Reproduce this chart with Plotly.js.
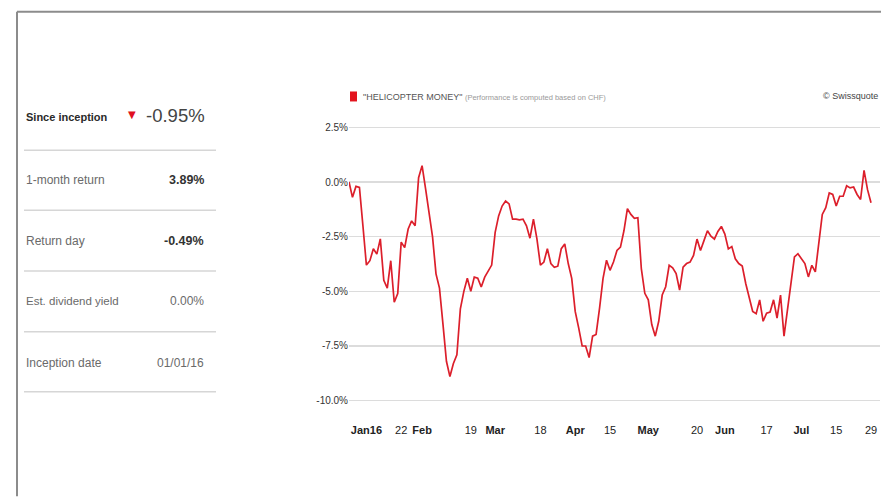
<!DOCTYPE html>
<html>
<head>
<meta charset="utf-8">
<script src="https://cdn.plot.ly/plotly-3.0.1.min.js"></script>
<style>
html,body{margin:0;padding:0;background:#fff;}
#chart{width:881px;height:497px;}
</style>
</head>
<body>
<div id="chart"></div>
<script>
// ---- Data (performance in %, one value per trading day, 2016-01-01 .. 2016-07-29)
var seriesName = '"HELICOPTER MONEY"';
var seriesNote = '(Performance is computed based on CHF)';
var startDate = '2016-01-01';
var endDate = '2016-07-29';
var performance = [
  0.0, -0.7, -0.2, -0.25, -2.0, -3.8, -3.6, -3.05, -3.3, -2.6,
  -4.5, -4.85, -3.6, -5.5, -5.1, -2.75, -3.0, -2.15, -1.78, -2.0,
  0.2, 0.75, -0.3, -1.3, -2.5, -4.2, -4.85, -6.5, -8.2, -8.9,
  -8.3, -7.9, -5.8, -5.0, -4.4, -5.0, -4.35, -4.4, -4.8, -4.35,
  -4.05, -3.8, -2.3, -1.55, -1.1, -0.87, -1.0, -1.7, -1.7, -1.73,
  -1.7, -2.0, -2.57, -1.7, -2.6, -3.8, -3.66, -3.05, -3.73, -3.9,
  -3.85, -3.05, -2.83, -3.73, -4.41, -5.92, -6.67, -7.5, -7.5, -8.03,
  -7.05, -6.97, -5.77, -4.41, -3.58, -4.04, -3.66, -3.13, -2.98, -2.23,
  -1.22, -1.48, -1.66, -1.63, -3.96, -5.09, -5.39, -6.52, -7.05, -6.37,
  -5.17, -4.79, -3.81, -3.93, -4.19, -4.94, -3.89, -3.73, -3.66, -3.36,
  -2.61, -3.13, -2.68, -2.23, -2.48, -2.61, -2.26, -2.03, -2.38, -3.06,
  -2.95, -3.51, -3.73, -3.84, -4.64, -5.24, -5.92, -6.02, -5.39, -6.37,
  -6.0, -5.95, -5.39, -6.22, -5.17, -7.05, -5.92, -4.56, -3.43, -3.28,
  -3.5, -3.73, -4.34, -3.81, -4.11, -2.76, -1.48, -1.17, -0.5, -0.57,
  -1.1, -0.65, -0.65, -0.17, -0.27, -0.23, -0.57, -0.8, 0.53, -0.35,
  -0.95
];
var tickDates = ['2016-01-08','2016-01-22','2016-02-01','2016-02-19','2016-03-01','2016-03-18','2016-04-01',
                 '2016-04-15','2016-05-02','2016-05-20','2016-06-01','2016-06-17','2016-07-01','2016-07-15','2016-07-29'];
var tickLabels = ['<b>Jan16</b>','22','<b>Feb</b>','19','<b>Mar</b>','18','<b>Apr</b>','15','<b>May</b>','20','<b>Jun</b>','17','<b>Jul</b>','15','29'];
var yTickVals = [2.5, 0, -2.5, -5, -7.5, -10];
var yTickText = ['2.5%','0.0%','-2.5%','-5.0%','-7.5%','-10.0%'];

var statLabels = ['Since inception','1-month return','Return day','Est. dividend yield','Inception date'];
var statValues = ['-0.95%','3.89%','-0.49%','0.00%','01/01/16'];
var statBold = [false, true, true, false, false];

// trading-day (weekday) dates
var dates = [];
(function(){
  var d = new Date(startDate + 'T00:00:00Z'), e = new Date(endDate + 'T00:00:00Z');
  while (d <= e) {
    var w = d.getUTCDay();
    if (w !== 0 && w !== 6) dates.push(d.toISOString().slice(0,10));
    d.setUTCDate(d.getUTCDate() + 1);
  }
})();

// ---- layout geometry
var W = 881, H = 497;
var L = 349, R = 880, T = 122.6, B = 405.4;
function xp(px){ return (px - L) / (R - L); }
function yp(py){ return (B - py) / (B - T); }

var FONT = '"Liberation Sans", Arial, sans-serif';

var annotations = [];
var shapes = [];

// frame
shapes.push({type:'line', xref:'paper', yref:'paper', x0:xp(17), x1:xp(881), y0:yp(11), y1:yp(11), line:{color:'#8c8c8c', width:2}});
shapes.push({type:'line', xref:'paper', yref:'paper', x0:xp(17), x1:xp(17), y0:yp(11), y1:yp(497), line:{color:'#8c8c8c', width:2}});

// left statistics panel
var rowY = [117, 180, 241, 301, 363];
var sepY = [150, 210, 271, 332, 392];
for (var i = 0; i < statLabels.length; i++) {
  annotations.push({xref:'paper', yref:'paper', x:xp(24), y:yp(rowY[i]), xanchor:'left', yanchor:'middle',
    text: i === 0 ? '<b>' + statLabels[i] + '</b>' : statLabels[i], showarrow:false,
    font:{family:FONT, size: i === 0 ? 11 : (i === 3 ? 11.5 : 12), color: i === 0 ? '#2a2a2a' : '#6a6a6a'}});
  if (i > 0) {
    annotations.push({xref:'paper', yref:'paper', x:xp(206), y:yp(rowY[i]), xanchor:'right', yanchor:'middle',
      text: statBold[i] ? '<b>' + statValues[i] + '</b>' : statValues[i], showarrow:false,
      font:{family:FONT, size: statBold[i] ? 12.5 : 12, color: statBold[i] ? '#333' : '#6a6a6a'}});
  }
  shapes.push({type:'line', xref:'paper', yref:'paper', x0:xp(24), x1:xp(216), y0:yp(sepY[i]), y1:yp(sepY[i]),
    line:{color:'#d6d6d6', width:1.5}});
}
annotations.push({xref:'paper', yref:'paper', x:xp(207), y:yp(115.5), xanchor:'right', yanchor:'middle',
  text: statValues[0], showarrow:false, font:{family:FONT, size:18.5, color:'#444'}});
annotations.push({xref:'paper', yref:'paper', x:xp(131.5), y:yp(114.5), xanchor:'center', yanchor:'middle',
  text:'▼', showarrow:false, font:{family:'DejaVu Sans, sans-serif', size:10, color:'#e01020'}});

// legend / header
shapes.push({type:'rect', xref:'paper', yref:'paper', x0:xp(350), x1:xp(357), y0:yp(101), y1:yp(91),
  fillcolor:'#e3141e', line:{width:0}});
annotations.push({xref:'paper', yref:'paper', x:xp(361), y:yp(96.5), xanchor:'left', yanchor:'middle',
  text: seriesName + ' <span style="font-size:7.5px;color:#9a9a9a">' + seriesNote + '</span>', showarrow:false,
  font:{family:FONT, size:9, color:'#555'}});
annotations.push({xref:'paper', yref:'paper', x:xp(880), y:yp(96), xanchor:'right', yanchor:'middle',
  text:'© Swissquote', showarrow:false, font:{family:FONT, size:9, color:'#444'}});

var trace = {
  type:'scatter', mode:'lines', x: dates, y: performance, name: seriesName,
  line:{color:'#dc1f2b', width:1.7}, hoverinfo:'x+y'
};

var layout = {
  width: W, height: H,
  margin:{l:L, r:W - R, t:T, b:H - B, pad:0},
  paper_bgcolor:'#fff', plot_bgcolor:'#fff',
  showlegend:false,
  font:{family:FONT, color:'#333'},
  xaxis:{
    type:'date',
    range:['2016-01-01', '2016-08-02 14:00'],
    rangebreaks:[{bounds:['sat','mon']}],
    tickmode:'array', tickvals: tickDates, ticktext: tickLabels,
    showgrid:false, zeroline:false, showline:false,
    ticks:'outside', ticklen:15, tickcolor:'rgba(0,0,0,0)',
    tickfont:{family:FONT, size:11, color:'#222'}
  },
  yaxis:{
    range:[-10.2, 2.7],
    tickmode:'array', tickvals: yTickVals, ticktext: yTickText,
    showgrid:true, gridcolor:'#dcdcdc', gridwidth:1.3,
    zeroline:false, showline:false, ticks:'', ticklen:0,
    tickfont:{family:FONT, size:10, color:'#333'}
  },
  shapes: shapes,
  annotations: annotations
};

Plotly.newPlot('chart', [trace], layout, {displayModeBar:false, staticPlot:true});
</script>
</body>
</html>
